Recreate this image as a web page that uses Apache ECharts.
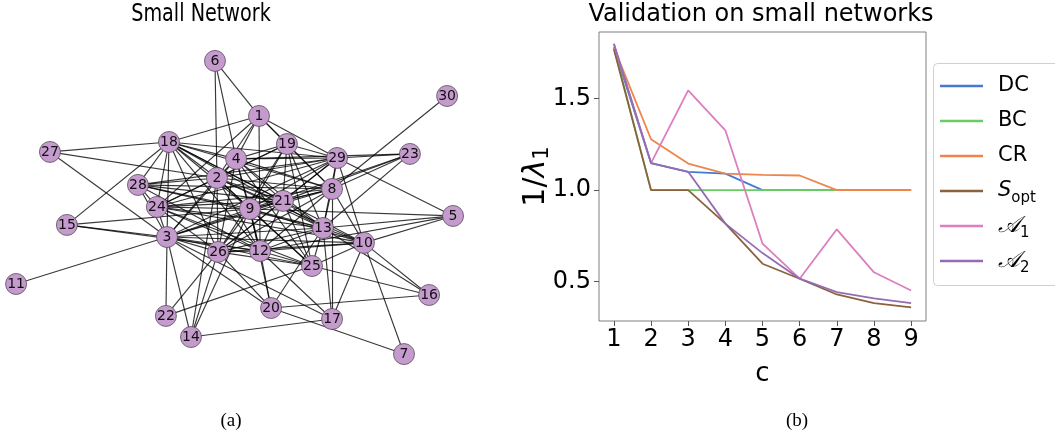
<!DOCTYPE html>
<html><head><meta charset="utf-8">
<script src="https://cdn.jsdelivr.net/npm/echarts@6/dist/echarts.min.js"></script>
<style>html,body{margin:0;padding:0;background:#fff}#c{width:1055px;height:439px}</style>
</head><body><div id="c"></div>
<script>
// ---------- Network (panel a) ----------
const nodeLabels = ['1','2','3','4','5','6','7','8','9','10','11','12','13','14','15','16','17','18','19','20','21','22','23','24','25','26','27','28','29','30'];
const nodeX = [0.109,-0.082,-0.309,0.005,0.991,-0.091,0.768,0.441,0.068,0.586,-0.995,0.114,0.400,-0.200,-0.764,0.882,0.441,-0.300,0.236,0.164,0.218,-0.314,0.795,-0.355,0.350,-0.077,-0.841,-0.441,0.464,0.964];
const nodeY = [0.542,0.142,-0.239,0.265,-0.103,0.897,-0.994,0.071,-0.058,-0.277,-0.542,-0.329,-0.181,-0.884,-0.161,-0.613,-0.768,0.374,0.361,-0.697,-0.006,-0.748,0.297,-0.045,-0.426,-0.335,0.310,0.097,0.271,0.671];
const edges = [
 [6,1],[6,2],[6,4],[30,8],[11,3],
 [27,18],[27,2],[27,3],
 [15,18],[15,3],[15,9],[15,12],
 [22,3],[22,26],[22,25],
 [14,3],[14,26],[14,2],[14,9],[14,17],
 [20,12],[20,9],[20,3],[20,13],[20,16],[20,7],[20,26],
 [7,10],
 [17,13],[17,8],[17,10],[17,3],[17,12],
 [16,10],[16,13],[16,25],
 [5,29],[5,9],[5,13],[5,12],[5,10],
 [23,29],[23,8],[23,21],[23,9],[23,13],[23,4],
 [1,18],[1,4],[1,2],[1,24],[1,12],[1,19],[1,29],[1,8],
 [18,3],[18,24],[18,28],[18,2],[18,4],[18,9],[18,21],[18,29],[18,8],[18,13],[18,12],[18,26],[18,10],
 [19,4],[19,2],[19,29],[19,8],[19,13],[19,9],[19,21],[19,25],[19,24],[19,26],
 [29,8],[29,13],[29,10],[29,2],[29,4],[29,9],[29,21],[29,24],[29,28],[29,3],[29,26],
 [8,13],[8,10],[8,21],[8,9],[8,2],[8,4],[8,24],[8,28],[8,26],[8,12],[8,3],
 [10,13],[10,25],[10,12],[10,26],[10,9],[10,3],[10,2],[10,24],
 [28,2],[28,24],[28,3],[28,9],[28,21],[28,13],[28,12],
 [24,2],[24,3],[24,9],[24,21],[24,13],[24,12],[24,25],[24,26],
 [3,26],[3,12],[3,9],[3,2],[3,4],[3,21],[3,13],[3,25],
 [2,4],[2,9],[2,21],[2,13],[2,12],[2,25],[2,26],
 [4,9],[4,21],[4,13],[4,12],[4,26],[4,25],
 [9,21],[9,13],[9,12],[9,26],[9,25],
 [21,13],[21,12],[21,26],[21,25],
 [13,12],[13,25],[13,26],
 [12,25],[12,26],
 [26,25]
];

// ---------- Line chart (panel b) ----------
const cValues = [1,2,3,4,5,6,7,8,9];
const xTickValues = [1,2,3,4,5,6,7,8,9];
const yTickValues = [0.5,1.0,1.5];
const seriesNames = ['DC','BC','CR','S_opt','A1','A2'];
const DC   = [1.78, 1.148, 1.10, 1.09, 1.00, 1.00, 1.00, 1.00, 1.00];
const BC   = [1.78, 1.00, 1.00, 1.00, 1.00, 1.00, 1.00, 1.00, 1.00];
const CR   = [1.78, 1.278, 1.145, 1.09, 1.083, 1.08, 1.00, 1.00, 1.00];
const Sopt = [1.77, 1.00, 1.00, 0.817, 0.598, 0.516, 0.43, 0.383, 0.36];
const A1   = [1.80, 1.148, 1.545, 1.327, 0.708, 0.516, 0.786, 0.551, 0.452];
const A2   = [1.80, 1.148, 1.10, 0.817, 0.656, 0.516, 0.443, 0.409, 0.383];
const seriesValues = [DC, BC, CR, Sopt, A1, A2];
const colors = ['#4878d0','#6acc64','#ee854a','#8c613c','#dc7ec0','#956cb4'];

const legendLabels = {
  DC:'{t|DC}', BC:'{t|BC}', CR:'{t|CR}',
  S_opt:'{it|S}{sub|opt}',
  A1:'{sc|𝒜}{sub|1}',
  A2:'{sc|𝒜}{sub|2}'
};

const chart = echarts.init(document.getElementById('c'), null, {renderer:'canvas'});
const F = 'DejaVu Sans';

const option = {
  animation: false,
  backgroundColor: '#fff',
  grid: [
    {left:0, top:0, width:470, height:439, show:false},
    {left:599, top:32, width:327, height:289, show:true, borderColor:'#7f7f7f', borderWidth:1, backgroundColor:'transparent'}
  ],
  xAxis: [
    {gridIndex:0, type:'value', min:-1.068, max:1.068, show:false},
    {gridIndex:1, type:'value', min:0.6, max:9.4,
     name:'c', nameLocation:'middle', nameGap:40,
     nameTextStyle:{fontFamily:F, fontSize:26, color:'#000'},
     axisLine:{show:false}, splitLine:{show:false},
     axisTick:{show:true, length:5, customValues:xTickValues, lineStyle:{color:'#555'}},
     axisLabel:{show:true, customValues:xTickValues, fontFamily:F, fontSize:24, color:'#000', margin:7}}
  ],
  yAxis: [
    {gridIndex:0, type:'value', min:-1.542, max:1.290, show:false},
    {gridIndex:1, type:'value', min:0.285, max:1.864,
     name:'{a|1/}{l|λ}{s|1}', nameLocation:'middle', nameGap:46, nameRotate:90, nameMoveOverlap:false,
     nameTextStyle:{fontFamily:F, fontSize:30, color:'#000',
       rich:{a:{fontFamily:F, fontSize:30, lineHeight:34, color:'#000'},
             l:{fontFamily:F, fontSize:30, fontStyle:'italic', lineHeight:34, color:'#000'},
             s:{fontFamily:F, fontSize:21, lineHeight:16, verticalAlign:'bottom', color:'#000'}}},
     axisLine:{show:false}, splitLine:{show:false},
     axisTick:{show:true, length:5, customValues:yTickValues, lineStyle:{color:'#555'}},
     axisLabel:{show:true, customValues:yTickValues, fontFamily:F, fontSize:24, color:'#000', margin:8,
       formatter: v => Number(v).toFixed(1)}}
  ],
  legend: {
    show:true, orient:'vertical', left:933, top:65,
    data: seriesNames, icon:'rect', itemWidth:43, itemHeight:2.5, itemGap:5,
    backgroundColor:'transparent', borderWidth:0,
    padding:[6, 20, 0, 7],
    formatter: name => legendLabels[name],
    textStyle:{fontFamily:F, fontSize:21, color:'#000', padding:[0,0,0,10], lineHeight:30, height:30,
      rich:{
        t:{fontFamily:F, fontSize:21, lineHeight:30, color:'#000'},
        it:{fontFamily:F, fontSize:21, fontStyle:'italic', lineHeight:30, color:'#000'},
        sc:{fontFamily:F, fontSize:23, fontStyle:'italic', lineHeight:30, color:'#000'},
        sub:{fontFamily:F, fontSize:15, lineHeight:12, verticalAlign:'bottom', color:'#000'}
      }}
  },
  graphic: [
    {type:'rect', silent:true, z:-1, shape:{x:933.5, y:63.5, width:140, height:222, r:4},
     style:{fill:'#fff', stroke:'#d0d0d0', lineWidth:1}},
    {type:'text', x:201, y:3, scaleX:0.8, silent:true, style:{text:'Small Network', fontFamily:F, fontSize:24, fill:'#000', align:'center', verticalAlign:'top'}},
    {type:'text', x:761, y:3, silent:true, style:{text:'Validation on small networks', fontFamily:F, fontSize:24, fill:'#000', align:'center', verticalAlign:'top'}},
    {type:'text', x:231, y:421, silent:true, style:{text:'(a)', fontFamily:'Liberation Serif', fontSize:19, fill:'#000', align:'center', verticalAlign:'middle'}},
    {type:'text', x:797, y:421, silent:true, style:{text:'(b)', fontFamily:'Liberation Serif', fontSize:19, fill:'#000', align:'center', verticalAlign:'middle'}}
  ],
  series: [
    {
      type:'graph', coordinateSystem:'cartesian2d', xAxisIndex:0, yAxisIndex:0,
      layout:'none', silent:true, roam:false,
      symbol:'circle', symbolSize:21,
      itemStyle:{color:'#c49bcc', borderColor:'#5a4a5e', borderWidth:0.8},
      label:{show:true, position:'inside', fontFamily:F, fontSize:14, color:'#111'},
      lineStyle:{color:'#000', opacity:0.78, width:1.15, curveness:0},
      emphasis:{disabled:true},
      data: nodeLabels.map((n,i)=>({name:n, value:[nodeX[i], nodeY[i]]})),
      links: edges.map(([a,b])=>({source:String(a), target:String(b)}))
    }
  ].concat(seriesNames.map((name,k)=>({
      type:'line', name:name, xAxisIndex:1, yAxisIndex:1,
      data: cValues.map((c,i)=>[c, seriesValues[k][i]]),
      showSymbol:false, symbol:'none', color:colors[k],
      lineStyle:{width:1.8, color:colors[k]}, z:2+k*0.01,
      emphasis:{disabled:true}
  })))
};
chart.setOption(option);
</script>
</body></html>
